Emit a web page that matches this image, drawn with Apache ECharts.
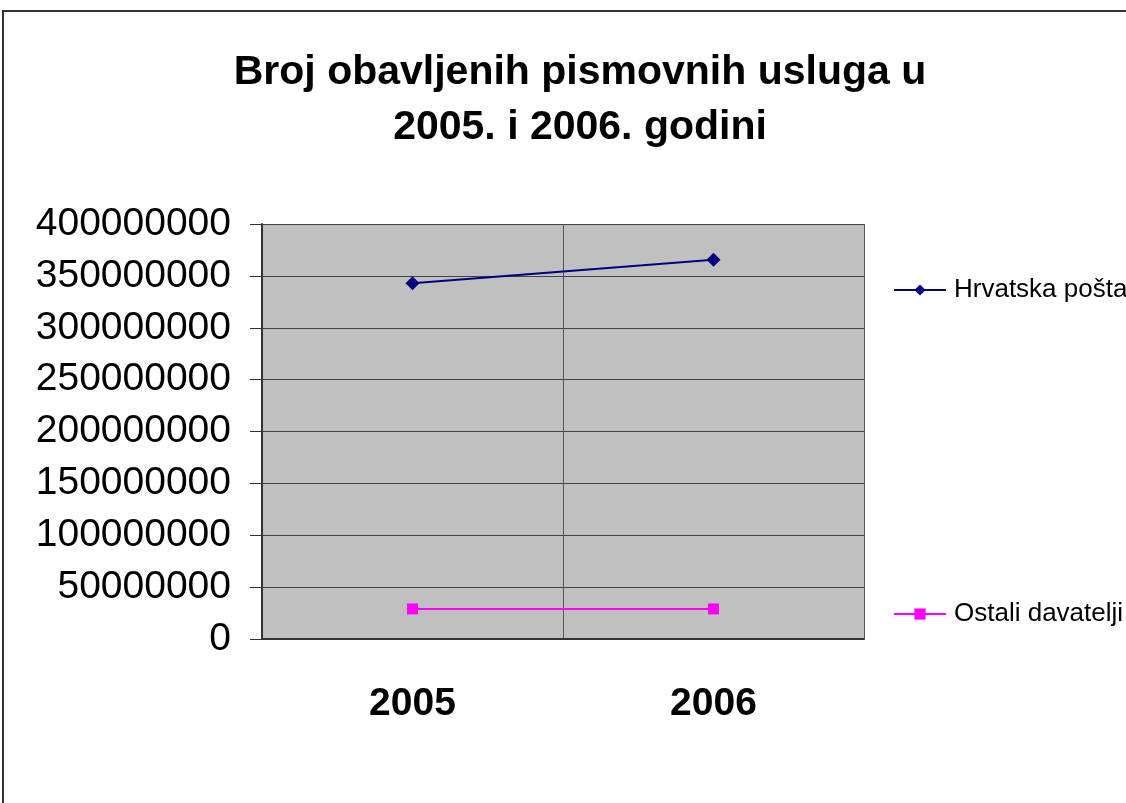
<!DOCTYPE html>
<html>
<head>
<meta charset="utf-8">
<script src="https://cdn.jsdelivr.net/npm/echarts@6/dist/echarts.min.js"></script>
<style>
  html, body { margin: 0; padding: 0; background: #fff; }
  #chart { width: 1126px; height: 803px; }
</style>
</head>
<body>
<div id="chart"></div>
<script>
// podaci
const years = ["2005", "2006"];
const hrvatskaPosta = [343000000, 365500000];
const ostaliDavatelji = [29000000, 29000000];
const seriesNames = ["Hrvatska pošta", "Ostali davatelji"];
const titleText = "Broj obavljenih pismovnih usluga u\n2005. i 2006. godini";

const FONT = "Liberation Sans, Arial, sans-serif";

let chart = echarts.init(document.getElementById("chart"));
chart.setOption({
    animation: false,
    backgroundColor: "#fff",
    title: {
        text: titleText,
        left: 575,
        textAlign: "center",
        top: 40,
        textStyle: { fontFamily: FONT, fontSize: 41, fontWeight: "bold", color: "#000", lineHeight: 55 }
    },
    graphic: [{
        type: "rect",
        silent: true,
        shape: { x: 3, y: 11, width: 1300, height: 1000 },
        style: { fill: null, stroke: "#333", lineWidth: 2 }
    }],
    legend: {
        orient: "vertical",
        left: 893,
        top: 277,
        padding: 0,
        itemWidth: 52,
        itemHeight: 14,
        itemGap: 298,
        textStyle: { fontFamily: FONT, fontSize: 26, color: "#000", padding: [0, 0, 0, 3] },
        data: seriesNames
    },
    grid: {
        left: 262, right: 262, top: 224, bottom: 164,
        show: true,
        backgroundColor: "#C0C0C0",
        borderWidth: 0
    },
    xAxis: {
        type: "category",
        data: years,
        boundaryGap: true,
        axisLine: { lineStyle: { color: "#333", width: 2 } },
        axisTick: { show: false },
        splitLine: { show: true, lineStyle: { color: "#555", width: 1 } },
        axisLabel: { fontFamily: FONT, fontSize: 39, fontWeight: "bold", color: "#000", margin: 46 }
    },
    yAxis: {
        type: "value",
        min: 0,
        max: 400000000,
        interval: 50000000,
        axisLine: { show: true, lineStyle: { color: "#333", width: 2 } },
        axisTick: { show: true, length: 12, lineStyle: { color: "#333" } },
        splitLine: { show: true, lineStyle: { color: "#444", width: 1 } },
        axisLabel: {
            fontFamily: FONT, fontSize: 39, color: "#000", margin: 31,
            formatter: v => String(v)
        }
    },
    series: [
        {
            name: seriesNames[0],
            type: "line",
            data: hrvatskaPosta,
            symbol: "diamond",
            symbolSize: 14,
            itemStyle: { color: "#000080" },
            lineStyle: { color: "#000080", width: 2 }
        },
        {
            name: seriesNames[1],
            type: "line",
            data: ostaliDavatelji,
            symbol: "rect",
            symbolSize: 11,
            itemStyle: { color: "#FF00FF" },
            lineStyle: { color: "#FF00FF", width: 2 }
        }
    ]
});
</script>
</body>
</html>
